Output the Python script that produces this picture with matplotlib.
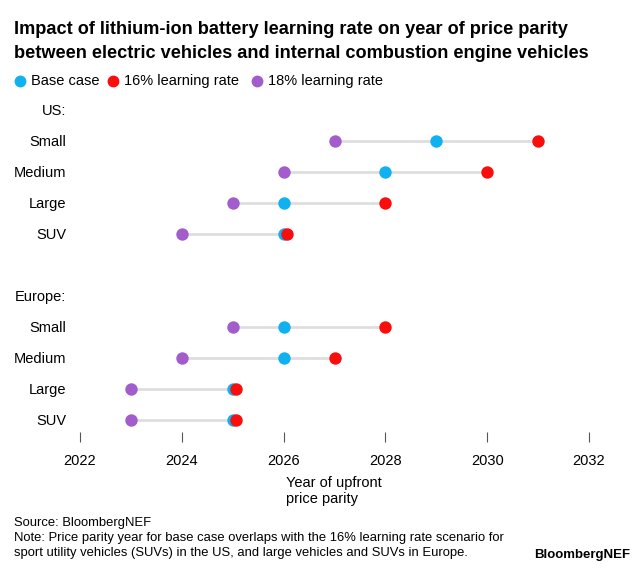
import numpy as np
import matplotlib
matplotlib.use("Agg")
import matplotlib.pyplot as plt

plt.rcParams['font.family'] = ['Liberation Sans', 'DejaVu Sans']

# rows, top to bottom ("" = spacer, ":" rows are group headers)
rows = ["US:", "Small", "Medium", "Large", "SUV", "",
        "Europe:", "Small", "Medium", "Large", "SUV"]

# year of price parity per vehicle row (headers / spacer = nan)
base_case = [np.nan, 2029, 2028, 2026, 2026, np.nan, np.nan, 2026, 2026, 2025, 2025]
lr16 = [np.nan, 2031, 2030, 2028, 2026, np.nan, np.nan, 2028, 2027, 2025, 2025]
lr18 = [np.nan, 2027, 2026, 2025, 2024, np.nan, np.nan, 2025, 2024, 2023, 2023]

xticks = [2022, 2024, 2026, 2028, 2030, 2032]

BLUE = "#10b1f0"
RED = "#f90d0d"
PURPLE = "#a35ccb"
GREY = "#dedede"

fig = plt.figure(figsize=(6.4, 5.71), dpi=100)
ax = fig.add_axes([80/640, 1 - 432/571, 509/640, 338/571])

y = np.arange(len(rows))
base = np.array(base_case, dtype=float)
r16 = np.array(lr16, dtype=float)
r18 = np.array(lr18, dtype=float)

# connector line from min to max
lo = np.fmin(np.fmin(base, r16), r18)
hi = np.fmax(np.fmax(base, r16), r18)
ax.hlines(y, lo, hi, color=GREY, lw=2, zorder=1)

# red dot nudged a touch right where it sits on the base case, like the original
nudge = np.where(r16 == base, 0.06, 0.0)
ms = 80
ax.scatter(r18, y, s=ms, color=PURPLE, zorder=3, linewidths=0)
ax.scatter(base, y, s=ms, color=BLUE, zorder=3, linewidths=0)
ax.scatter(r16 + nudge, y, s=ms, color=RED, zorder=4, linewidths=0)

ax.set_xlim(2022, 2032)
ax.set_ylim(10.4, -0.5)
ax.set_yticks(y)
ax.set_yticklabels(rows, fontsize=10.5)
ax.set_xticks(xticks)
ax.set_xticklabels([str(t) for t in xticks], fontsize=10.5)
ax.tick_params(axis='y', length=0, pad=10)
ax.tick_params(axis='x', length=7, width=0.8, color="#555555", pad=9)
for s in ax.spines.values():
    s.set_visible(False)

ax.set_xlabel("Year of upfront\nprice parity", fontsize=10.5, ha='left',
              x=(286 - 80)/509, labelpad=5.5, linespacing=1.15)

fig.text(14/640, 1 - 30/571, "Impact of lithium-ion battery learning rate on year of price parity",
         fontsize=13.1, fontweight='bold', va='center')
fig.text(14/640, 1 - 53/571, "between electric vehicles and internal combustion engine vehicles",
         fontsize=13.1, fontweight='bold', va='center')

# legend
leg = [("Base case", BLUE, 20), ("16% learning rate", RED, 113), ("18% learning rate", PURPLE, 257)]
for label, c, px in leg:
    fig.add_artist(plt.Line2D([px/640], [1 - 81/571], marker='o', ms=7.5, color=c, ls='none',
                              transform=fig.transFigure))
    fig.text((px + 11)/640, 1 - 81/571, label, fontsize=10.5, va='center')

fig.text(14/640, 1 - 523/571, "Source: BloombergNEF", fontsize=9.4, va='center')
fig.text(14/640, 1 - 538/571,
         "Note: Price parity year for base case overlaps with the 16% learning rate scenario for",
         fontsize=9.4, va='center')
fig.text(14/640, 1 - 553/571,
         "sport utility vehicles (SUVs) in the US, and large vehicles and SUVs in Europe.",
         fontsize=9.4, va='center')
fig.text(630/640, 1 - 555/571, "BloombergNEF", fontsize=9.5, fontweight='bold',
         va='center', ha='right')

fig.savefig("out.png", dpi=100)
